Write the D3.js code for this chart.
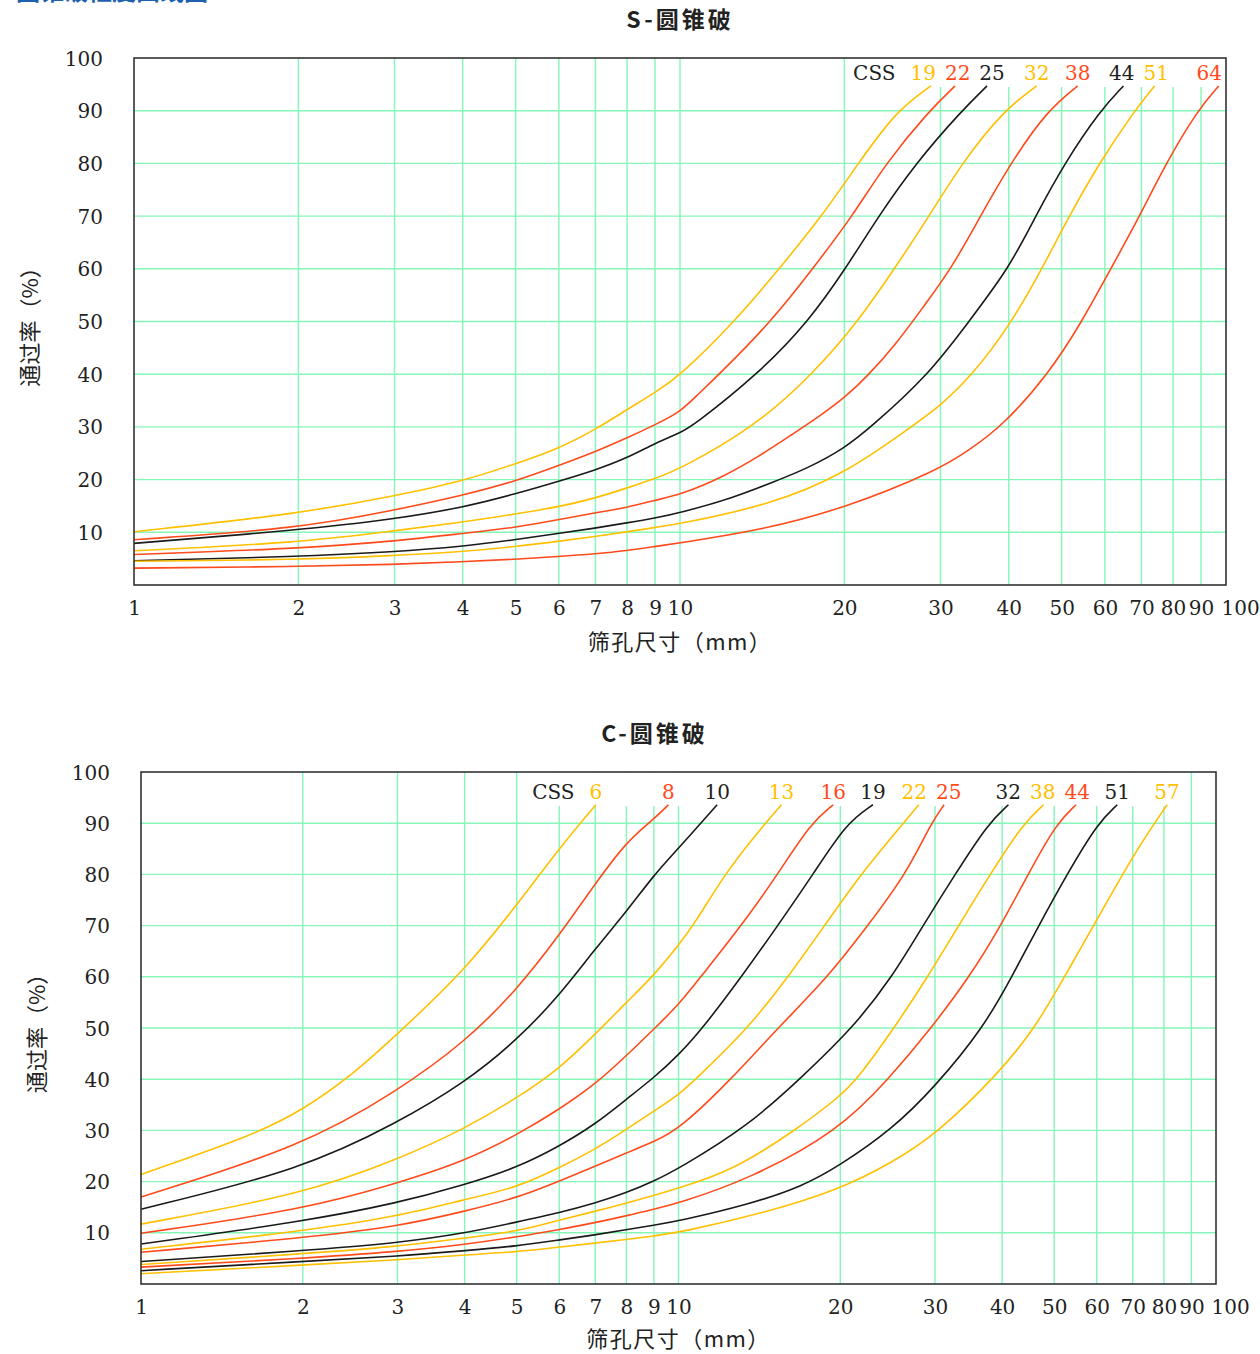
<!DOCTYPE html>
<html><head><meta charset="utf-8">
<script src="https://cdn.jsdelivr.net/npm/d3@7"></script>
<style>body{margin:0;background:#fff}</style>
</head><body>
<svg id="c" width="1260" height="1354"></svg>
<script>
// ---------- data ----------
const xTicks = [1,2,3,4,5,6,7,8,9,10,20,30,40,50,60,70,80,90,100];
const yTicks = [10,20,30,40,50,60,70,80,90,100];
const seriesColors = ["#FFC000", "#FF4A1C", "#1a1a1a"];

// S-cone crusher
const sTitle = "S-圆锥破";
const sCss = [19,22,25,32,38,44,51,64];
const sSizes = [
  [1,2,3,4,5,6,7,8,9,10,12.6,15.2,18.2,21.2,24.9,28.8],
  [1,2,3,4,5,6,7,8,9,10,10.7,11.8,14.7,17.5,20.7,23.8,28.6,31.9],
  [1,2,3,4,5,6,7,8,9,10,10.5,13.9,17.2,20.1,23.1,27.0,32.8,36.5],
  [1,2,3,4,5,6,7,8,9,10,13.7,17.5,21.2,24.7,28.6,32.8,39.1,45.0],
  [1,2,3,4,5,6,7,8,9,10,12,14,16,18,20,22,25,28,31.4,35.5,40.3,47,53.5],
  [1,2,3,4,5,6,7,8,9,10,12.5,15.2,17.0,20,22.4,28.6,33.8,40.0,44.8,50.6,58.8,64.9],
  [1,2,3,4,5,6,7,8,9,10,14.6,20,26.5,30,34.4,40,45.5,51,58.5,68,74],
  [1,2,3,4,5,6,7,8,9,10,13.9,20,30,33.8,38.8,47.3,54.5,61.5,69.5,77.6,88.6,97]
];
const sPass = [
  [10.1,13.5,16.9,19.7,23.0,25.9,29.5,33.3,36.5,39.7,50,60,70,80,90,94.7],
  [8.6,10.7,14.2,17.0,19.7,22.7,25.3,27.9,30.4,32.8,35.8,40,50,60,70,80,90,94.7],
  [7.9,10.4,12.5,14.7,17.3,19.7,21.8,24.1,26.9,28.9,30,40,50,60,70,80,90,94.7],
  [6.5,8.0,10.3,11.9,13.5,14.8,16.5,18.4,20.2,22.0,30,40,50,60,70,80,90,94.7],
  [5.8,6.9,8.3,9.8,10.9,12.4,13.7,14.7,16.1,17.1,20.5,24.5,28.5,32,35.5,39.5,46,53,60,70,80,90,94.7],
  [4.6,5.4,6.3,7.3,8.6,9.8,10.8,11.8,12.7,13.7,16.5,20,22.0,25.9,30,40,50,60,70,80,90,94.7],
  [4.5,4.8,5.6,6.3,7.3,8.3,9.2,10.1,10.9,11.6,15.2,21.0,30,34,40,49,59,69,80,90,94.7],
  [3.2,3.5,3.9,4.4,4.9,5.4,5.9,6.5,7.3,8.0,10.3,14.5,22.0,25.6,30,40,50,60,70,80,90,94.7]
];

// C-cone crusher
const cTitle = "C-圆锥破";
const cCss = [6,8,10,13,16,19,22,25,32,38,44,51,57];
const cSizes = [
  [1,1.66,2,2.42,3,4,5,6,7.02],
  [1,2,3,4,5,6,7,8,9,9.58],
  [1,2,3,4,5,6,7,8,9,10,11.8],
  [1,2,3,4,5,6,7,8,9,10,10.76,12.17,13.75,15.54],
  [1,2,3,4,5,6,7,8,9,10,11.0,13.1,15.3,17.6,19.4],
  [1,2,3,4,5,6,7,8,9,10,11.1,13.1,15.3,17.8,20.5,23.0],
  [1,2,3,4,5,6,7,8,9,10,10.76,13.5,16.0,18.7,21.8,26.2,28.0],
  [1,2,3,4,5,6,7,8,9,10,12.54,15.3,19.0,22.5,26.5,29.5,31.2],
  [1,2,3,4,5,6,7,8,9,10,13.54,17.0,21.1,25.0,28.5,32.7,37.7,41.1],
  [1,2,3,4,5,6,7,8,9,10,12.54,16.5,20,21.5,25.2,29.1,33.2,38,43.8,47.8],
  [1,2,3,4,5,6,7,8,9,10,13.5,19.86,24.6,29.54,34.8,39.8,44.7,50.5,54.9],
  [1,2,3,4,5,6,7,8,9,10,13.5,17.03,19.86,24.97,30,36.9,41.7,46.8,52.8,60.2,65.5],
  [1,2,3,4,5,6,7,8,9,10,14.6,19.86,24.97,30.4,39.5,46.0,53.7,60.7,70.7,81.1]
];
const cPass = [
  [21.4,29.5,34.1,40,48.8,61.2,74.0,85.1,93.6],
  [17.0,26.9,37.7,47.2,57.4,68.1,78.2,86.4,90.8,93.6],
  [14.6,22.4,31.5,39.3,47.6,56.3,65.5,72.7,79.9,85.1,93.6],
  [11.7,17.5,24.3,30.3,36.3,42.0,48.8,55.0,60.3,66.1,70.7,79.9,87.1,93.6],
  [9.9,14.5,19.7,24.0,29.1,34.1,39.0,44.6,49.8,54.5,60,70,80,90,93.6],
  [7.8,12.2,15.8,19.4,22.7,26.9,31.2,36.1,40.3,44.7,50,60,70,80,90,93.6],
  [6.8,10.3,13.2,16.5,18.8,22.7,26.3,30.2,33.8,36.9,40,50,60,70,80,90,93.6],
  [6.2,9.0,11.2,14.2,16.8,20.1,23.0,25.6,27.8,30.1,40,50,60,70,80,90,93.6],
  [4.4,6.5,8.0,9.9,12.1,13.9,15.8,17.8,20.1,22.5,31,40.5,50,60,70,80,90,93.6],
  [3.8,5.9,7.3,9.0,10.2,12.5,14.2,15.8,17.3,18.75,22,30,36.7,40,50,60,70,80,90,93.6],
  [3.3,5.0,6.3,7.7,9.2,10.6,12.0,13.3,14.6,15.8,20.4,29.9,40,50,60,70,80,90,93.6],
  [2.6,4.4,5.4,6.5,7.4,8.6,9.6,10.6,11.5,12.3,15.5,19.1,23.0,30.2,38.5,50,60,70,80,90,93.6],
  [2.0,3.7,4.7,5.7,6.25,7.2,8.0,8.7,9.4,10.0,14.0,18.4,23.7,29.5,41.3,49.8,62.2,72.0,84.4,93.6]
];

const yAxisTitle = "通过率（%）";
const xAxisTitle = "筛孔尺寸（mm）";
const pageTitle = "圆锥破粒度曲线图";

// ---------- drawing ----------
const svg = d3.select("#c");
const NUM_FONT = "'DejaVu Serif', 'Liberation Serif', serif";
const CJK_FONT = "'Noto Sans CJK SC', 'Noto Sans', sans-serif";
const GRID = "#86F5B8";

svg.append("text").attr("x", 16).attr("y", 0)
  .attr("font-family", CJK_FONT).attr("font-weight", "bold").attr("font-size", 24)
  .attr("fill", "#1F5FAF").text(pageTitle);

function drawChart(cfg) {
  const x = d3.scaleLog().domain([1, 100]).range([cfg.left, cfg.right]);
  const y = d3.scaleLinear().domain([0, 100]).range([cfg.bottom, cfg.top]);
  const g = svg.append("g");
  const gridG = g.append("g");
  const boxG = g.append("g");
  const curveG = g.append("g");
  const labG = g.append("g");
  const frameG = g.append("g");

  // grid
  gridG.append("g").selectAll("line").data(xTicks.filter(v => v > 1 && v < 100)).join("line")
    .attr("x1", d => x(d)).attr("x2", d => x(d)).attr("y1", cfg.top).attr("y2", cfg.bottom)
    .attr("stroke", GRID).attr("stroke-width", 1.4);
  gridG.append("g").selectAll("line").data(yTicks.filter(v => v < 100)).join("line")
    .attr("y1", d => y(d)).attr("y2", d => y(d)).attr("x1", cfg.left).attr("x2", cfg.right)
    .attr("stroke", GRID).attr("stroke-width", 1.4);

  // axis labels
  const xa = d3.axisBottom(x).tickValues(xTicks).tickFormat(d3.format("d")).tickSize(0).tickPadding(0);
  const xg = g.append("g").attr("transform", `translate(0,${cfg.bottom + 30})`).call(xa);
  xg.select(".domain").remove();
  xg.selectAll("text").attr("font-family", NUM_FONT).attr("font-size", 20).attr("fill", "#222").attr("dy", 0);
  xg.selectAll(".tick").filter(d => d === 100).select("text").attr("text-anchor", "start").attr("dx", -5);

  const ya = d3.axisLeft(y).tickValues(yTicks).tickSize(0).tickPadding(0);
  const yg = g.append("g").attr("transform", `translate(${cfg.left - 31},0)`).call(ya);
  yg.select(".domain").remove();
  yg.selectAll("text").attr("font-family", NUM_FONT).attr("font-size", 20).attr("fill", "#222").attr("dy", "0.35em");

  // titles
  g.append("text").attr("x", (cfg.left + cfg.right) / 2 + cfg.titleDx).attr("y", cfg.top - 30)
    .attr("text-anchor", "middle").attr("font-family", CJK_FONT).attr("font-weight", "bold")
    .attr("font-size", 23).attr("letter-spacing", 3).attr("fill", "#222").text(cfg.title);
  g.append("text").attr("x", (cfg.left + cfg.right) / 2).attr("y", cfg.bottom + cfg.xTitleDy)
    .attr("text-anchor", "middle").attr("font-family", CJK_FONT)
    .attr("font-size", 22).attr("letter-spacing", 1.5).attr("fill", "#222").text(xAxisTitle);
  const ymid = (cfg.top + cfg.bottom) / 2;
  g.append("text").attr("transform", `translate(${cfg.left - 96},${ymid}) rotate(-90)`)
    .attr("text-anchor", "middle").attr("font-family", CJK_FONT)
    .attr("font-size", 22).attr("fill", "#222").text(yAxisTitle);

  // legend labels, placed above the end of each curve, spread so they don't touch
  const ends = cfg.sizes.map(s => s[s.length - 1]);
  const labY = cfg.top + cfg.legendDy;
  const labs = labG.selectAll("text.lab").data(cfg.css).join("text").attr("class", "lab")
    .attr("y", labY).attr("dy", "0.35em").attr("text-anchor", "middle")
    .attr("font-family", NUM_FONT).attr("font-size", 20)
    .attr("fill", (d, i) => i % 3 === 2 ? "#222" : seriesColors[i % 3])
    .text(d => d);
  const widths = [];
  labs.each(function () { widths.push(this.getComputedTextLength()); });
  const cx = ends.map((e, i) => Math.min(x(e), cfg.right - widths[i] / 2 - 4));
  const gap = 9;
  for (let it = 0; it < 40; it++) {
    for (let i = 1; i < cx.length; i++) {
      const need = widths[i - 1] / 2 + widths[i] / 2 + gap;
      const d = cx[i] - cx[i - 1];
      if (d < need) {
        const s = (need - d) / 2;
        cx[i - 1] -= s; cx[i] += s;
      }
    }
    const last = cx.length - 1;
    cx[last] = Math.min(cx[last], cfg.right - widths[last] / 2 - 4);
  }
  labs.attr("x", (d, i) => cx[i]);
  const cssT = labG.append("text").attr("x", cx[0] - widths[0] / 2 - 15).attr("y", labY).attr("dy", "0.35em")
    .attr("text-anchor", "end").attr("font-family", NUM_FONT).attr("font-size", 20)
    .attr("fill", "#222").text("CSS");
  const b0 = cssT.node().getBBox();
  let rightMost = 0, bottomMost = 0;
  labs.each(function () { const b = this.getBBox(); rightMost = Math.max(rightMost, b.x + b.width); bottomMost = Math.max(bottomMost, b.y + b.height); });
  boxG.append("rect").attr("x", b0.x - 4).attr("y", cfg.top + 1)
    .attr("width", Math.min(rightMost + 8, cfg.right - 1) - (b0.x - 4))
    .attr("height", bottomMost + 2 - (cfg.top + 1)).attr("fill", "#fff");

  // curves
  const line = d3.line().x(d => x(d[0])).y(d => y(d[1])).curve(d3.curveBasis);
  curveG.selectAll("path").data(cfg.sizes.map((s, i) => s.map((v, j) => [v, cfg.pass[i][j]])))
    .join("path").attr("d", line).attr("fill", "none")
    .attr("stroke", (d, i) => seriesColors[i % 3]).attr("stroke-width", 1.6);

  // frame
  frameG.append("rect").attr("x", cfg.left).attr("y", cfg.top)
    .attr("width", cfg.right - cfg.left).attr("height", cfg.bottom - cfg.top)
    .attr("fill", "none").attr("stroke", "#333").attr("stroke-width", 1.6);
}

drawChart({ left: 134, right: 1226, top: 58, bottom: 585, title: sTitle, titleDx: 0, xTitleDy: 65,
  css: sCss, sizes: sSizes, pass: sPass, legendDy: 15 });
drawChart({ left: 141, right: 1216, top: 772, bottom: 1284, title: cTitle, titleDx: -24, xTitleDy: 63,
  css: cCss, sizes: cSizes, pass: cPass, legendDy: 20 });
</script>
</body></html>
